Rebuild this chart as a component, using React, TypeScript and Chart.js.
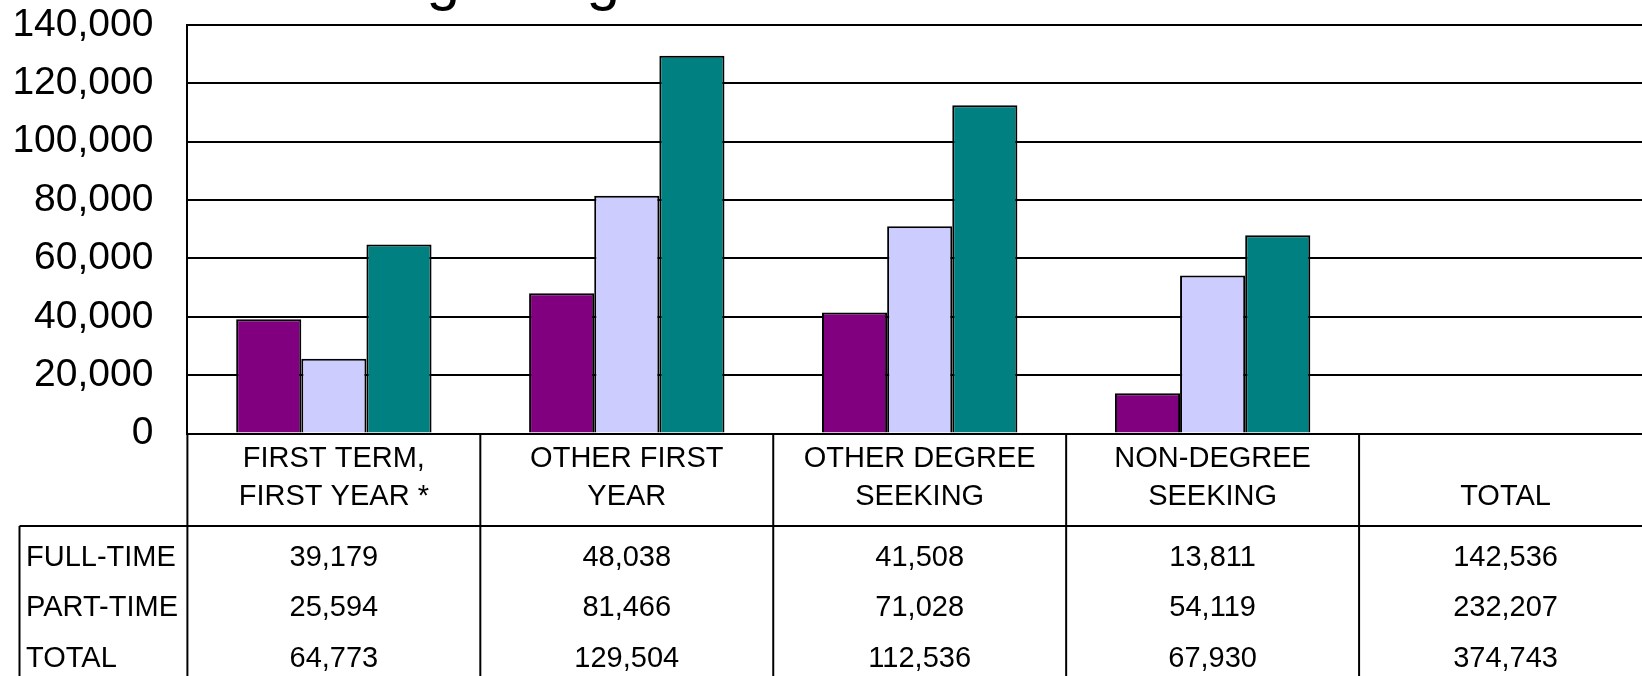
import React, { useEffect, useRef } from 'react';
import { Chart, registerables } from 'chart.js';

Chart.register(...registerables);

// ---- data ----
const categoryLabels: string[][] = [
  ['FIRST TERM,', 'FIRST YEAR *'],
  ['OTHER FIRST', 'YEAR'],
  ['OTHER DEGREE', 'SEEKING'],
  ['NON-DEGREE', 'SEEKING'],
  ['', 'TOTAL'],
];
const fullTime = [39179, 48038, 41508, 13811];
const partTime = [25594, 81466, 71028, 54119];
const totalStudents = [64773, 129504, 112536, 67930];
const fullTimeAll = 142536;
const partTimeAll = 232207;
const totalAll = 374743;
const rowLabels = ['FULL-TIME', 'PART-TIME', 'TOTAL'];
const yMax = 140000;
const yStep = 20000;
const titleText = 'Beginning';

const FONT = '"Liberation Sans", Arial, sans-serif';
const fmt = (v: number) => v.toLocaleString('en-US');

const tablePlugin = {
  id: 'dataTable',
  afterDraw(chart: any) {
    const ctx = chart.ctx as CanvasRenderingContext2D;
    const xs = chart.scales.x;
    const area = chart.chartArea;
    const n = categoryLabels.length;
    const centers = categoryLabels.map((_, i) => xs.getPixelForValue(i));
    const half = (centers[1] - centers[0]) / 2;
    const bounds = centers.map((c) => c - half);
    bounds.push(centers[n - 1] + half);

    ctx.save();
    // title (mostly above the visible area)
    ctx.fillStyle = '#000';
    ctx.font = `60px ${FONT}`;
    ctx.textAlign = 'left';
    ctx.textBaseline = 'alphabetic';
    ctx.fillText(titleText, 353, -1);

    ctx.strokeStyle = '#000';
    ctx.lineWidth = 2;
    const top = area.bottom;
    const rowTop = top + 92.5;
    const bottom = chart.height;
    bounds.forEach((b) => {
      ctx.beginPath();
      ctx.moveTo(b, top);
      ctx.lineTo(b, bottom);
      ctx.stroke();
    });
    const leftEdge = 19.5;
    ctx.beginPath();
    ctx.moveTo(leftEdge, rowTop);
    ctx.lineTo(chart.width, rowTop);
    ctx.stroke();
    ctx.beginPath();
    ctx.moveTo(leftEdge, rowTop);
    ctx.lineTo(leftEdge, bottom);
    ctx.stroke();

    const rows = [
      [...fullTime, fullTimeAll],
      [...partTime, partTimeAll],
      [...totalStudents, totalAll],
    ];
    ctx.font = `29px ${FONT}`;
    ctx.textBaseline = 'middle';
    rows.forEach((row, r) => {
      const y = rowTop + 32 + r * 50.35;
      ctx.textAlign = 'left';
      ctx.fillText(rowLabels[r], 26, y);
      ctx.textAlign = 'center';
      row.forEach((v, i) => ctx.fillText(fmt(v), centers[i], y));
    });
    ctx.restore();
  },
};

export default function App() {
  const ref = useRef<HTMLCanvasElement>(null);
  useEffect(() => {
    if (!ref.current) return;
    Chart.defaults.font.family = FONT;
    Chart.defaults.color = '#000';
    const chart = new Chart(ref.current, {
      type: 'bar',
      data: {
        labels: categoryLabels,
        datasets: [
          { label: 'FULL-TIME', data: fullTime, backgroundColor: '#800080', borderColor: '#000', borderWidth: 2, categoryPercentage: 0.667, barPercentage: 1 },
          { label: 'PART-TIME', data: partTime, backgroundColor: '#CCCCFF', borderColor: '#000', borderWidth: 2, categoryPercentage: 0.667, barPercentage: 1 },
          { label: 'TOTAL', data: totalStudents, backgroundColor: '#008080', borderColor: '#000', borderWidth: 2, categoryPercentage: 0.667, barPercentage: 1 },
        ],
      },
      options: {
        animation: false,
        responsive: false,
        maintainAspectRatio: false,
        devicePixelRatio: 1,
        layout: { padding: { top: 25, right: 28, bottom: 0, left: 0 } },
        plugins: { legend: { display: false }, tooltip: { enabled: false }, title: { display: false } },
        scales: {
          x: {
            grid: { display: false, drawTicks: false },
            border: { display: true, color: '#000', width: 2 },
            ticks: { font: { size: 29, lineHeight: 1.3 }, padding: 7, maxRotation: 0, minRotation: 0, autoSkip: false, color: '#000' },
            afterFit: (scale: any) => {
              scale.height = 242.5;
              scale.paddingTop = 0;
              scale.paddingBottom = 0;
              scale.paddingLeft = 0;
              scale.paddingRight = 0;
            },
          },
          y: {
            min: 0,
            max: yMax,
            grid: { color: '#000', lineWidth: 2, drawTicks: false },
            border: { display: true, color: '#000', width: 2 },
            ticks: { stepSize: yStep, font: { size: 39 }, padding: 34, color: '#000', callback: (v: any) => fmt(Number(v)) },
            afterFit: (scale: any) => {
              scale.width = 187.4;
              scale.paddingTop = 0;
              scale.paddingBottom = 0;
            },
          },
        },
      },
      plugins: [tablePlugin],
    });
    return () => chart.destroy();
  }, []);
  return (
    <div style={{ position: 'fixed', left: 0, top: 0, width: 1642, height: 676, overflow: 'hidden', background: '#fff' }}>
      <canvas ref={ref} width={1680} height={676} style={{ width: 1680, height: 676, display: 'block' }} />
    </div>
  );
}
